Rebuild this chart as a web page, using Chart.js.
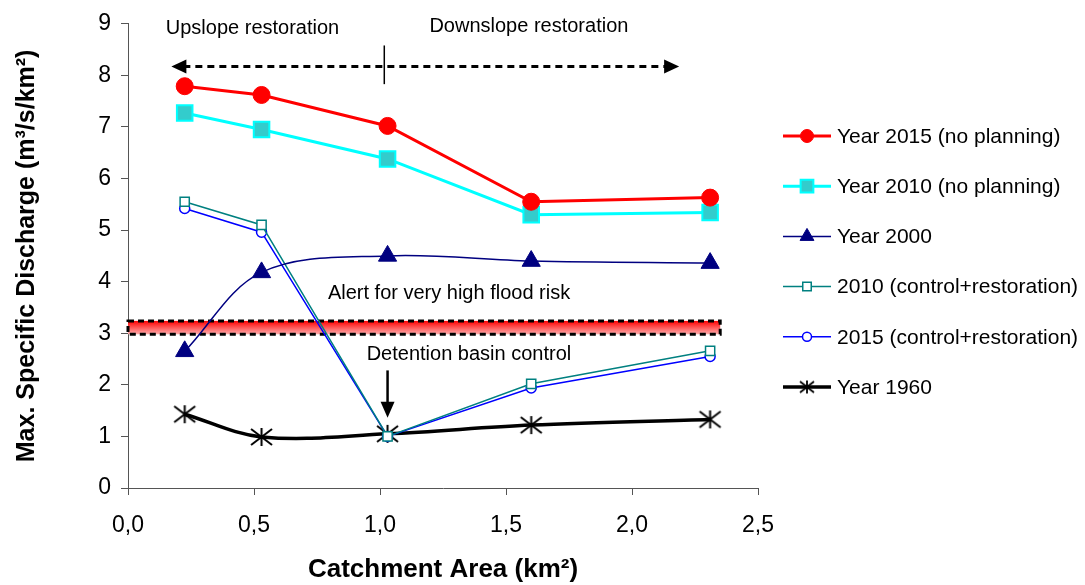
<!DOCTYPE html>
<html>
<head>
<meta charset="utf-8">
<script src="https://cdn.jsdelivr.net/npm/chart.js@4.4.1/dist/chart.umd.min.js"></script>
<style>
  html, body { margin: 0; padding: 0; background: #fff; }
  #wrap { width: 1085px; height: 585px; }
</style>
</head>
<body>
<div id="wrap"><canvas id="chart" width="1085" height="585"></canvas></div>
<script>
// catchment area (km²) of each section
const areaKm2 = [0.225, 0.53, 1.03, 1.6, 2.31];

// max. specific discharge (m³/s/km²)
const q2015NoPlanning = [7.79, 7.62, 7.02, 5.55, 5.63];
const q2010NoPlanning = [7.27, 6.95, 6.38, 5.30, 5.34];
const q2000 = [2.65, 4.18, 4.50, 4.40, 4.36];
const q2010Control = [5.55, 5.10, 1.00, 2.02, 2.66];
const q2015Control = [5.42, 4.96, 1.00, 1.94, 2.55];
const q1960 = [1.43, 0.99, 1.05, 1.22, 1.33];

const seriesLabels = [
    'Year 2015 (no planning)',
    'Year 2010 (no planning)',
    'Year 2000',
    '2010 (control+restoration)',
    '2015 (control+restoration)',
    'Year 1960'
];

const xTicks = [0, 0.5, 1, 1.5, 2, 2.5];
const yTicks = [0, 1, 2, 3, 4, 5, 6, 7, 8, 9];

// annotation values (data units)
const alertLow = 2.98;
const alertHigh = 3.24;
const alertEndX = 2.35;
const restorationArrowY = 8.17;
const restorationArrowFrom = 0.172;
const restorationArrowTo = 2.187;
const restorationSplitX = 1.017;
const detentionX = 1.03;

const FONT = "'Liberation Sans', Arial, sans-serif";

function toPoints(values) {
    return areaKm2.map((a, i) => ({ x: a, y: values[i] }));
}

// asterisk marker like the spreadsheet "star" (vertical bar + X)
function makeStar(w, h, lw) {
    const c = document.createElement('canvas');
    c.width = w + 4;
    c.height = h + 4;
    const g = c.getContext('2d');
    g.strokeStyle = '#000';
    g.lineWidth = lw;
    const cx = c.width / 2, cy = c.height / 2;
    g.beginPath();
    g.moveTo(cx, cy - h / 2); g.lineTo(cx, cy + h / 2);
    g.moveTo(cx - w / 2, cy - h / 2 + 1); g.lineTo(cx + w / 2, cy + h / 2 - 1);
    g.moveTo(cx + w / 2, cy - h / 2 + 1); g.lineTo(cx - w / 2, cy + h / 2 - 1);
    g.stroke();
    return c;
}
const starBig = makeStar(21, 18, 2);
const starSmall = makeStar(14, 13, 1.8);

const datasets = [
    {
        label: seriesLabels[0], data: toPoints(q2015NoPlanning),
        borderColor: '#ff0000', borderWidth: 3,
        pointStyle: 'circle', pointRadius: 8.5, pointBackgroundColor: '#ff0000',
        pointBorderColor: '#ff0000', pointBorderWidth: 1, legendRadius: 6.5
    },
    {
        label: seriesLabels[1], data: toPoints(q2010NoPlanning),
        borderColor: '#00ffff', borderWidth: 3,
        pointStyle: 'rect', pointRadius: 11, pointBackgroundColor: '#33cccc',
        pointBorderColor: '#00ffff', pointBorderWidth: 2, legendRadius: 9
    },
    {
        label: seriesLabels[2], data: toPoints(q2000),
        borderColor: '#000080', borderWidth: 1.5, tension: 0.35,
        pointStyle: 'triangle', pointRadius: 10.5, pointBackgroundColor: '#000080',
        pointBorderColor: '#000080', pointBorderWidth: 1, legendRadius: 8
    },
    {
        label: seriesLabels[3], data: toPoints(q2010Control),
        borderColor: '#008080', borderWidth: 1.5,
        pointStyle: 'rect', pointRadius: 6.5, pointBackgroundColor: '#ffffff',
        pointBorderColor: '#008080', pointBorderWidth: 1.5, legendRadius: 6
    },
    {
        label: seriesLabels[4], data: toPoints(q2015Control),
        borderColor: '#0000ff', borderWidth: 1.5,
        pointStyle: 'circle', pointRadius: 5, pointBackgroundColor: '#ffffff',
        pointBorderColor: '#0000ff', pointBorderWidth: 1.5, legendRadius: 4.5
    },
    {
        label: seriesLabels[5], data: toPoints(q1960),
        borderColor: '#000000', borderWidth: 3.5, tension: 0.35,
        pointStyle: starBig, legendStyle: starSmall, pointRadius: 10, pointBackgroundColor: '#000',
        pointBorderColor: '#000', pointBorderWidth: 1.5, legendRadius: 7
    }
];

function arrowHead(ctx, x, y, dx, dy, len, half) {
    // tip at (x, y), pointing along (dx, dy)
    const nx = -dy, ny = dx;
    ctx.beginPath();
    ctx.moveTo(x, y);
    ctx.lineTo(x - dx * len + nx * half, y - dy * len + ny * half);
    ctx.lineTo(x - dx * len - nx * half, y - dy * len - ny * half);
    ctx.closePath();
    ctx.fill();
}

const annotations = {
    id: 'annotations',
    beforeDatasetsDraw(chart) {
        const { ctx, scales: { x, y } } = chart;
        const x0 = x.getPixelForValue(0), x1 = x.getPixelForValue(alertEndX);
        const yTop = y.getPixelForValue(alertHigh), yBot = y.getPixelForValue(alertLow);
        ctx.save();
        const grad = ctx.createLinearGradient(0, yTop, 0, yBot);
        grad.addColorStop(0, '#ff0000');
        grad.addColorStop(1, '#ffb0b0');
        ctx.fillStyle = grad;
        ctx.fillRect(x0, yTop, x1 - x0, yBot - yTop);
        ctx.strokeStyle = '#000';
        ctx.lineWidth = 3;
        ctx.setLineDash([6, 4]);
        ctx.strokeRect(x0, yTop, x1 - x0, yBot - yTop);
        ctx.restore();
    },
    afterDatasetsDraw(chart) {
        const { ctx, scales: { x, y } } = chart;
        ctx.save();
        ctx.fillStyle = '#000';
        ctx.strokeStyle = '#000';

        // upslope / downslope double arrow
        const ay = y.getPixelForValue(restorationArrowY);
        const ax0 = x.getPixelForValue(restorationArrowFrom);
        const ax1 = x.getPixelForValue(restorationArrowTo);
        ctx.lineWidth = 3;
        ctx.setLineDash([7, 5]);
        ctx.beginPath();
        ctx.moveTo(ax0 + 12, ay);
        ctx.lineTo(ax1 - 12, ay);
        ctx.stroke();
        ctx.setLineDash([]);
        arrowHead(ctx, ax0, ay, -1, 0, 15, 7);
        arrowHead(ctx, ax1, ay, 1, 0, 15, 7);

        const sx = x.getPixelForValue(restorationSplitX);
        ctx.lineWidth = 1.5;
        ctx.beginPath();
        ctx.moveTo(sx, y.getPixelForValue(8.58));
        ctx.lineTo(sx, y.getPixelForValue(7.83));
        ctx.stroke();

        // detention basin arrow
        const dx = x.getPixelForValue(detentionX);
        const dTop = y.getPixelForValue(2.28), dTip = y.getPixelForValue(1.36);
        ctx.lineWidth = 2.5;
        ctx.beginPath();
        ctx.moveTo(dx, dTop);
        ctx.lineTo(dx, dTip - 12);
        ctx.stroke();
        arrowHead(ctx, dx, dTip, 0, 1, 16, 7);

        ctx.font = '20px ' + FONT;
        ctx.textBaseline = 'middle';
        ctx.textAlign = 'left';
        ctx.fillText('Upslope restoration', x.getPixelForValue(0.15), y.getPixelForValue(8.91));
        ctx.fillText('Downslope restoration', x.getPixelForValue(1.196), y.getPixelForValue(8.95));
        ctx.textAlign = 'center';
        ctx.fillText('Alert for very high flood risk', x.getPixelForValue(1.274), y.getPixelForValue(3.77));
        ctx.fillText('Detention basin control', x.getPixelForValue(1.353), y.getPixelForValue(2.58));
        ctx.restore();
    }
};

const sideLegend = {
    id: 'sideLegend',
    afterDraw(chart) {
        const ctx = chart.ctx;
        chart.data.datasets.forEach((ds, i) => {
            const ly = 136 + i * 50.2;
            ctx.save();
            ctx.strokeStyle = ds.borderColor;
            ctx.lineWidth = ds.borderWidth;
            ctx.beginPath();
            ctx.moveTo(783, ly);
            ctx.lineTo(831, ly);
            ctx.stroke();
            ctx.fillStyle = ds.pointBackgroundColor;
            ctx.strokeStyle = ds.pointBorderColor;
            ctx.lineWidth = ds.pointBorderWidth;
            Chart.helpers.drawPoint(ctx, {
                pointStyle: ds.legendStyle || ds.pointStyle,
                radius: ds.legendRadius,
                rotation: 0,
                borderWidth: ds.pointBorderWidth
            }, 807, ly);
            ctx.fillStyle = '#000';
            ctx.font = '21px ' + FONT;
            ctx.textBaseline = 'middle';
            ctx.textAlign = 'left';
            ctx.fillText(ds.label, 837, ly + 1);
            ctx.restore();
        });
    }
};

new Chart(document.getElementById('chart').getContext('2d'), {
    type: 'line',
    data: { datasets },
    options: {
        responsive: false,
        animation: false,
        devicePixelRatio: 1,
        layout: { padding: { top: 20, right: 327, left: 0, bottom: 0 } },
        plugins: { legend: { display: false }, tooltip: { enabled: false } },
        scales: {
            x: {
                type: 'linear',
                min: 0, max: 2.5,
                afterFit: s => { s.height = 97; },
                afterBuildTicks: s => { s.ticks = xTicks.map(v => ({ value: v })); },
                grid: { drawOnChartArea: false, drawTicks: true, tickLength: 7, color: '#555' },
                border: { display: true, color: '#555', width: 1 },
                ticks: {
                    color: '#000', padding: 17, maxRotation: 0,
                    font: { family: FONT, size: 23 },
                    callback: v => v.toFixed(1).replace('.', ',')
                },
                title: {
                    display: true, text: 'Catchment Area (km²)', color: '#000',
                    font: { family: FONT, size: 26, weight: 'bold' },
                    padding: { top: 0, bottom: 0 }
                }
            },
            y: {
                min: 0, max: 9,
                afterFit: s => { s.width = 128; },
                afterBuildTicks: s => { s.ticks = yTicks.map(v => ({ value: v })); },
                grid: { drawOnChartArea: false, drawTicks: true, tickLength: 7, color: '#555' },
                border: { display: true, color: '#555', width: 1 },
                ticks: {
                    color: '#000', padding: 10,
                    font: { family: FONT, size: 23 }
                },
                title: {
                    display: true, text: 'Max. Specific Discharge (m³/s/km²)', color: '#000',
                    font: { family: FONT, size: 25, weight: 'bold' },
                    padding: { top: 12, bottom: 0 }
                }
            }
        }
    },
    plugins: [annotations, sideLegend]
});
</script>
</body>
</html>
